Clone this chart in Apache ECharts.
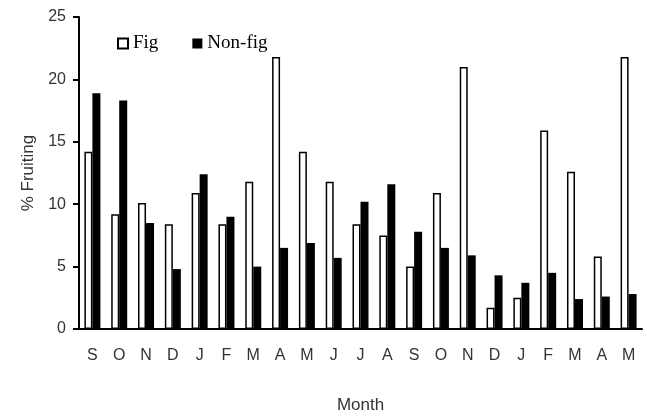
<!DOCTYPE html>
<html>
<head>
<meta charset="utf-8">
<script src="https://cdn.jsdelivr.net/npm/echarts@6/dist/echarts.min.js"></script>
<style>
  html, body { margin: 0; padding: 0; background: #fff; }
  #chart { width: 647px; height: 419px; }
</style>
</head>
<body>
<div id="chart"></div>
<script>
// months from Sep to May, two seasons
const months = ['S', 'O', 'N', 'D', 'J', 'F', 'M', 'A', 'M', 'J', 'J', 'A', 'S', 'O', 'N', 'D', 'J', 'F', 'M', 'A', 'M'];
const figValues = [14.2, 9.2, 10.1, 8.4, 10.9, 8.4, 11.8, 21.8, 14.2, 11.8, 8.4, 7.5, 5.0, 10.9, 21.0, 1.7, 2.5, 15.9, 12.6, 5.8, 21.8];
const nonFigValues = [18.9, 18.3, 8.5, 4.8, 12.4, 9.0, 5.0, 6.5, 6.9, 5.7, 10.2, 11.6, 7.8, 6.5, 5.9, 4.3, 3.7, 4.5, 2.4, 2.6, 2.8];
const yTicks = [0, 5, 10, 15, 20, 25];

const chart = echarts.init(document.getElementById('chart'));

const sans = 'Liberation Sans, Arial';
const axisFont = { fontFamily: sans, fontSize: 16, color: '#333' };

chart.setOption({
  animation: false,
  legend: {
    left: 112,
    top: 29,
    itemWidth: 10,
    itemHeight: 10,
    itemGap: 34,
    icon: 'rect',
    textStyle: { fontFamily: 'Liberation Serif, Times New Roman', fontSize: 19, color: '#000' },
    data: ['Fig', 'Non-fig'],
  },
  grid: { left: 79, right: 5, top: 17, bottom: 84 },
  xAxis: {
    type: 'category',
    data: months,
    name: 'Month',
    nameLocation: 'middle',
    nameGap: 68,
    nameTextStyle: { fontFamily: sans, fontSize: 17, color: '#333' },
    axisLine: { lineStyle: { color: '#000', width: 2 } },
    axisTick: { length: 5, lineStyle: { color: '#000', width: 2 } },
    axisLabel: Object.assign({ margin: 19, interval: 0 }, axisFont),
  },
  yAxis: {
    type: 'value',
    min: yTicks[0],
    max: yTicks[yTicks.length - 1],
    interval: 5,
    name: '% Fruiting',
    nameLocation: 'middle',
    nameGap: 42,
    nameTextStyle: { fontFamily: sans, fontSize: 17, color: '#333' },
    axisLine: { show: true, lineStyle: { color: '#000', width: 2 } },
    axisTick: { show: true, length: 6, lineStyle: { color: '#000', width: 2 } },
    axisLabel: Object.assign({ margin: 13 }, axisFont),
    splitLine: { show: false },
  },
  series: [
    {
      name: 'Fig',
      type: 'bar',
      data: figValues,
      barWidth: 8,
      barGap: '0%',
      itemStyle: { color: '#fff', borderColor: '#000', borderWidth: 1.5 },
    },
    {
      name: 'Non-fig',
      type: 'bar',
      data: nonFigValues,
      barWidth: 8,
      barGap: '0%',
      itemStyle: { color: '#000' },
    },
  ],
});
</script>
</body>
</html>
